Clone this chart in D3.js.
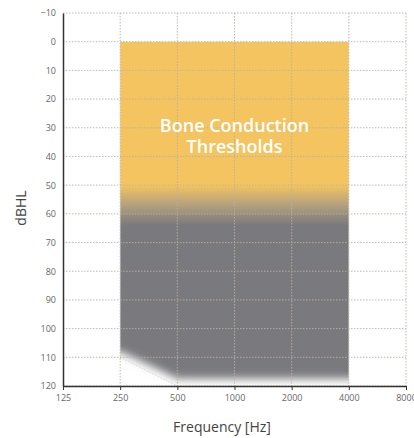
<!DOCTYPE html>
<html><head><meta charset="utf-8">
<script src="https://cdn.jsdelivr.net/npm/d3@7"></script>
<style>body{margin:0;background:#fff}svg{display:block}text{font-family:"Open Sans",sans-serif}</style>
</head><body>
<script>
const frequencies = [125, 250, 500, 1000, 2000, 4000, 8000];
const dbTicks = [-10, 0, 10, 20, 30, 40, 50, 60, 70, 80, 90, 100, 110, 120];
const regionFreq = [250, 4000];
const regionTop = 0;
const yellowUntil = 50, grayFrom = 64;
const bottomBoundary = [[250, 108], [500, 117.5], [4000, 117.5]];
const edgeLine = [[250, 110], [500, 120]];
const labelLines = ["Bone Conduction", "Thresholds"];

const W = 414, H = 438;
const svg = d3.select("body").append("svg").attr("width", W).attr("height", H);
const x = d3.scaleLog().domain([125, 8000]).range([63, 406]);
const y = d3.scaleLinear().domain([-10, 120]).range([13, 386]);

const defs = svg.append("defs");
const g = defs.append("linearGradient").attr("id", "fillGrad")
  .attr("gradientUnits", "userSpaceOnUse")
  .attr("x1", 0).attr("x2", 0).attr("y1", y(yellowUntil)).attr("y2", y(grayFrom));
g.append("stop").attr("offset", 0).attr("stop-color", "#f3c45f");
g.append("stop").attr("offset", 0.45).attr("stop-color", "#b9a47e");
g.append("stop").attr("offset", 1).attr("stop-color", "#7a797d");

const f = defs.append("filter").attr("id", "blur").attr("filterUnits", "userSpaceOnUse")
  .attr("x", 0).attr("y", 0).attr("width", W).attr("height", H);
f.append("feGaussianBlur").attr("stdDeviation", 4.5);

const mask = defs.append("mask").attr("id", "fade").attr("maskUnits", "userSpaceOnUse")
  .attr("x", 0).attr("y", 0).attr("width", W).attr("height", H);
const pts = [[x(regionFreq[0]) - 40, y(-10) - 40]]
  .concat([[x(regionFreq[0]) - 40, y(bottomBoundary[0][1])]])
  .concat(bottomBoundary.map(d => [x(d[0]), y(d[1])]))
  .concat([[x(regionFreq[1]) + 40, y(bottomBoundary[2][1])], [x(regionFreq[1]) + 40, y(-10) - 40]]);
mask.append("polygon").attr("points", pts.map(p => p.join(",")).join(" "))
  .attr("fill", "#fff").attr("filter", "url(#blur)");

const clip = defs.append("clipPath").attr("id", "clipR");
clip.append("rect").attr("x", x(regionFreq[0])).attr("y", y(regionTop))
  .attr("width", x(regionFreq[1]) - x(regionFreq[0])).attr("height", y(120) - y(regionTop));

svg.append("g").attr("clip-path", "url(#clipR)").append("rect")
  .attr("x", x(regionFreq[0])).attr("y", y(regionTop))
  .attr("width", x(regionFreq[1]) - x(regionFreq[0])).attr("height", y(120) - y(regionTop))
  .attr("fill", "url(#fillGrad)").attr("mask", "url(#fade)");

// faint edge line
svg.append("path").attr("d", d3.line().x(d => x(d[0])).y(d => y(d[1]))(edgeLine))
  .attr("fill", "none").attr("stroke", "#d6d6d6").attr("stroke-width", 1).attr("stroke-dasharray", "1.5,1.5");

// grid
const grid = svg.append("g").attr("stroke", "#b9b1a3").attr("stroke-width", 1).attr("stroke-dasharray", "1.5,1.5").attr("opacity", 0.9);
dbTicks.forEach(d => grid.append("line").attr("x1", x(125)).attr("x2", x(8000)).attr("y1", y(d)).attr("y2", y(d)));
frequencies.slice(1).forEach(fq => grid.append("line").attr("x1", x(fq)).attr("x2", x(fq)).attr("y1", y(-10)).attr("y2", y(120)));

// axes
const xAxis = svg.append("g").attr("transform", `translate(0,${y(120)})`)
  .call(d3.axisBottom(x).tickValues(frequencies).tickFormat(d3.format("d")).tickSize(4).tickSizeOuter(0));
xAxis.select(".domain").attr("stroke", "#333").attr("stroke-width", 1.5);
xAxis.selectAll(".tick line").attr("stroke", "#333");
xAxis.selectAll("text").attr("fill", "#666").attr("font-size", 9).attr("dy", "0.9em").attr("font-family", "Open Sans");

const yAxis = svg.append("g").attr("transform", `translate(${x(125)},0)`)
  .call(d3.axisLeft(y).tickValues(dbTicks).tickSize(0).tickPadding(7).tickSizeOuter(0));
yAxis.select(".domain").attr("stroke", "#333").attr("stroke-width", 1.5);
yAxis.selectAll("text").attr("fill", "#666").attr("font-size", 9).attr("font-family", "Open Sans");

// labels
svg.append("text").attr("x", 222).attr("y", 432).attr("text-anchor", "middle")
  .attr("font-size", 14).attr("fill", "#444").text("Frequency [Hz]");
svg.append("text").attr("transform", "translate(26,208) rotate(-90)").attr("text-anchor", "middle")
  .attr("font-size", 14).attr("fill", "#444").text("dBHL");

const lbl = svg.append("text").attr("text-anchor", "middle").attr("fill", "#fff")
  .attr("font-size", 18).attr("font-weight", 600);
labelLines.forEach((t, i) => lbl.append("tspan").attr("x", x(1000)).attr("y", 132 + i * 21).text(t));
</script>
</body></html>
